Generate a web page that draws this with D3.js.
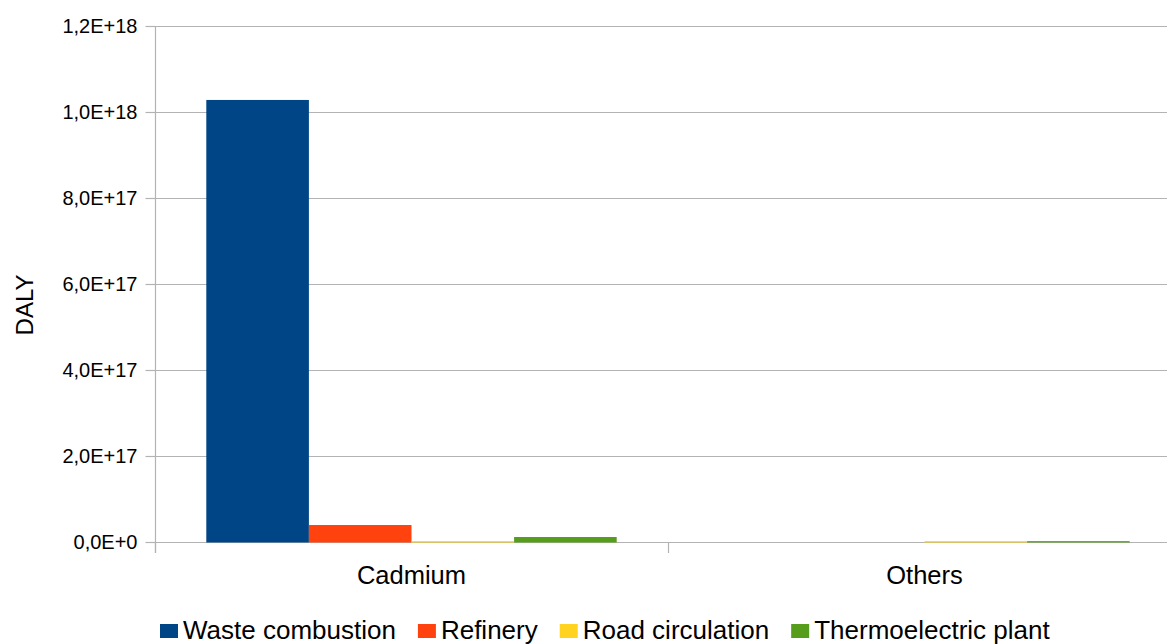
<!DOCTYPE html>
<html>
<head>
<meta charset="utf-8">
<script src="https://cdn.jsdelivr.net/npm/d3@7"></script>
<style>
  html, body { margin: 0; padding: 0; background: #fff; }
  svg { display: block; font-family: "Liberation Sans", Arial, sans-serif; }
</style>
</head>
<body>
<svg id="chart" width="1167" height="644"></svg>
<script>
// Pollutant groups on the x axis
const categories = ["Cadmium", "Others"];
// Emission sources (one bar per source in each group)
const seriesNames = ["Waste combustion", "Refinery", "Road circulation", "Thermoelectric plant"];
const seriesColors = ["#004586", "#ff420e", "#ffd320", "#579d1c"];
// DALY per source, in the order of categories
const wasteCombustion = [1.028e18, 0];
const refinery = [3.95e16, 0];
const roadCirculation = [2e15, 2e15];
const thermoelectricPlant = [1.16e16, 2e15];
// Y axis tick values
const yTicks = [0, 2e17, 4e17, 6e17, 8e17, 1e18, 1.2e18];

const seriesValues = [wasteCombustion, refinery, roadCirculation, thermoelectricPlant];

const svg = d3.select("#chart");
const plot = { left: 155, right: 1181, top: 26, bottom: 542 };

const y = d3.scaleLinear().domain([0, 1.2e18]).range([plot.bottom, plot.top]);
const x = d3.scaleBand().domain(categories).range([plot.left, plot.right]).paddingInner(0).paddingOuter(0);
const xInner = d3.scaleBand().domain(seriesNames).range([x.bandwidth() * 0.1, x.bandwidth() * 0.9]);

// Scientific-notation labels with a decimal comma, e.g. 1,2E+18
function sci(v) {
  if (v === 0) return "0,0E+0";
  const e = Math.floor(Math.log10(Math.abs(v)) + 1e-9);
  const m = v / Math.pow(10, e);
  return m.toFixed(1).replace(".", ",") + "E+" + e;
}

const gridColor = "#b3b3b3";

// Horizontal gridlines
svg.append("g")
  .selectAll("line")
  .data(yTicks)
  .join("line")
  .attr("x1", plot.left)
  .attr("x2", plot.right)
  .attr("y1", d => Math.round(y(d)) + 0.5)
  .attr("y2", d => Math.round(y(d)) + 0.5)
  .attr("stroke", gridColor)
  .attr("stroke-width", 1.2);

// Y axis
const yAxis = svg.append("g")
  .attr("transform", `translate(${plot.left + 0.5},0)`)
  .call(d3.axisLeft(y).tickValues(yTicks).tickFormat(sci).tickSize(10).tickPadding(8));
yAxis.select(".domain").attr("stroke", gridColor).attr("stroke-width", 1.2)
  .attr("d", `M0,${plot.top}V${plot.bottom + 11}`);
yAxis.selectAll(".tick line").attr("stroke", gridColor).attr("stroke-width", 1.2);
yAxis.selectAll(".tick text").attr("font-size", 20).attr("fill", "#000")
  .style("font-family", "'Liberation Sans', Arial, sans-serif");

// X axis tick marks at group boundaries
svg.append("g")
  .selectAll("line")
  .data(categories)
  .join("line")
  .attr("x1", d => Math.round(x(d)) + 0.5)
  .attr("x2", d => Math.round(x(d)) + 0.5)
  .attr("y1", plot.bottom)
  .attr("y2", plot.bottom + 11)
  .attr("stroke", gridColor)
  .attr("stroke-width", 1.2);

// Bars
const groups = svg.append("g")
  .selectAll("g")
  .data(categories)
  .join("g")
  .attr("transform", d => `translate(${x(d)},0)`);

groups.selectAll("rect")
  .data((c, ci) => seriesNames.map((s, si) => ({ s, si, v: seriesValues[si][ci] })))
  .join("rect")
  .attr("x", d => xInner(d.s))
  .attr("width", xInner.bandwidth())
  .attr("y", d => y(d.v))
  .attr("height", d => y(0) - y(d.v) + (d.v > 0 ? 0.5 : 0))
  .attr("fill", d => seriesColors[d.si]);

// Category labels
svg.append("g")
  .selectAll("text")
  .data(categories)
  .join("text")
  .attr("x", d => x(d) + x.bandwidth() / 2)
  .attr("y", 584)
  .attr("text-anchor", "middle")
  .attr("font-size", 25.5)
  .attr("fill", "#000")
  .text(d => d);

// Y axis title
svg.append("text")
  .attr("transform", "translate(33,305) rotate(-90)")
  .attr("text-anchor", "middle")
  .attr("font-size", 24)
  .attr("fill", "#000")
  .text("DALY");

// Legend
const legend = svg.append("g");
let lx = 160;
seriesNames.forEach((name, i) => {
  legend.append("rect")
    .attr("x", lx)
    .attr("y", 624)
    .attr("width", 18)
    .attr("height", 14)
    .attr("fill", seriesColors[i]);
  const t = legend.append("text")
    .attr("x", lx + 23)
    .attr("y", 639)
    .attr("font-size", 26)
    .attr("fill", "#000")
    .text(name);
  lx += 23 + t.node().getComputedTextLength() + 22;
});
</script>
</body>
</html>
